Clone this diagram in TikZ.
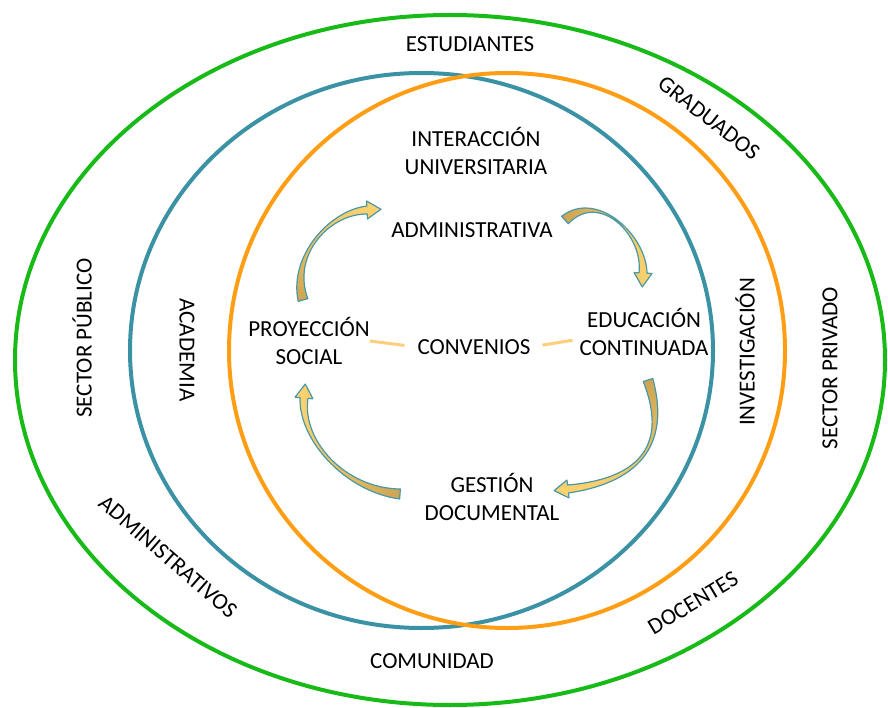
\documentclass[tikz,border=0pt]{standalone}
\usepackage{fontspec}
\setmainfont{Carlito}
\usetikzlibrary{calc}

\definecolor{verde}{RGB}{24,186,24}
\definecolor{azul}{RGB}{58,146,164}
\definecolor{naranja}{RGB}{255,158,20}
\definecolor{borde}{RGB}{72,152,166}
\definecolor{ocre}{RGB}{204,164,84}
\definecolor{amarillo}{RGB}{255,212,112}
\definecolor{enlace}{RGB}{255,206,122}

\tikzset{
  lbl/.style={font=\fontsize{23}{28}\selectfont, align=center, inner sep=0pt},
  anillo/.style={line width=4pt},
  flecha/.style={draw=borde, line width=1.2pt, line join=round},
  union/.style={draw=enlace, line width=3pt},
}

% curved ribbon arrow: #1 shading, #2 tail, #3 and #4 controls, #5 base of head
\newcommand{\ribbon}[5]{%
  \path[flecha,#1] ($(#2)!5pt!90:(#3)$) .. controls ($(#3)!1.5pt!-90:(#2)$) and ($(#4)!1.5pt!90:(#5)$) .. ($(#5)!4pt!-90:(#4)$)
    -- ($(#5)!9pt!-90:(#4)$) -- ($(#5)!14pt!180:(#4)$) -- ($(#5)!9pt!90:(#4)$) -- ($(#5)!4pt!90:(#4)$)
    .. controls ($(#4)!1.5pt!-90:(#5)$) and ($(#3)!1.5pt!90:(#2)$) .. ($(#2)!5pt!-90:(#3)$) -- cycle;
}

\begin{document}
\begin{tikzpicture}[x=1pt,y=-1pt]
\useasboundingbox (0,0) rectangle (888,708);

% rings
\draw[anillo, verde] (450,360) ellipse [x radius=435pt, y radius=345pt];
\draw[anillo, azul] (421.5,350.5) ellipse [x radius=291.5pt, y radius=277.5pt];
\draw[anillo, naranja] (507,350.5) ellipse [x radius=278pt, y radius=277.5pt];

% labels
\node[lbl] (estud) at (470,44) {ESTUDIANTES};
\node[lbl, rotate=-38] (grad) at (709,118) {GRADUADOS};
\node[lbl] (inter) at (476,151) {INTERACCIÓN\\UNIVERSITARIA};
\node[lbl] (admin) at (472,230) {ADMINISTRATIVA};
\node[lbl] (proy) at (309,341) {PROYECCIÓN\\SOCIAL};
\node[lbl] (conv) at (474,347) {CONVENIOS};
\node[lbl] (educ) at (644,332) {EDUCACIÓN\\CONTINUADA};
\node[lbl] (gest) at (492,497) {GESTIÓN\\DOCUMENTAL};
\node[lbl, rotate=-90] (acad) at (187,350) {ACADEMIA};
\node[lbl, rotate=90] (spub) at (82,338) {SECTOR PÚBLICO};
\node[lbl, rotate=90] (inv) at (745,352) {INVESTIGACIÓN};
\node[lbl, rotate=90] (spriv) at (830,368) {SECTOR PRIVADO};
\node[lbl, rotate=-41] (admvos) at (168,557) {ADMINISTRATIVOS};
\node[lbl, rotate=31] (doc) at (693,603) {DOCENTES};
\node[lbl] (comu) at (432,661) {COMUNIDAD};

% links to convenios
\draw[union, shorten >=13pt] (proy.east) -- (conv.west);
\draw[union, shorten <=12pt, shorten >=7pt] (conv.east) -- ($(educ.west)!0.3!(educ.south west)$);

% cycle arrows
\coordinate (t1) at (303,300); \coordinate (p1) at (290,255);
\coordinate (q1) at (330,212); \coordinate (b1) at (367,210);
\coordinate (t2) at (565,220); \coordinate (p2) at (598,190);
\coordinate (q2) at (645,235); \coordinate (b2) at (643,273);
\coordinate (t3) at (648,380); \coordinate (p3) at (668,440);
\coordinate (q3) at (645,480); \coordinate (b3) at (568,489);
\coordinate (t4) at (400,494); \coordinate (p4) at (345,490);
\coordinate (q4) at (300,440); \coordinate (b4) at (304,398);

\ribbon{bottom color=ocre, top color=amarillo}{t1}{p1}{q1}{b1}
\ribbon{left color=ocre, right color=amarillo}{t2}{p2}{q2}{b2}
\ribbon{top color=ocre, bottom color=amarillo}{t3}{p3}{q3}{b3}
\ribbon{right color=ocre, left color=amarillo}{t4}{p4}{q4}{b4}

\end{tikzpicture}
\end{document}
